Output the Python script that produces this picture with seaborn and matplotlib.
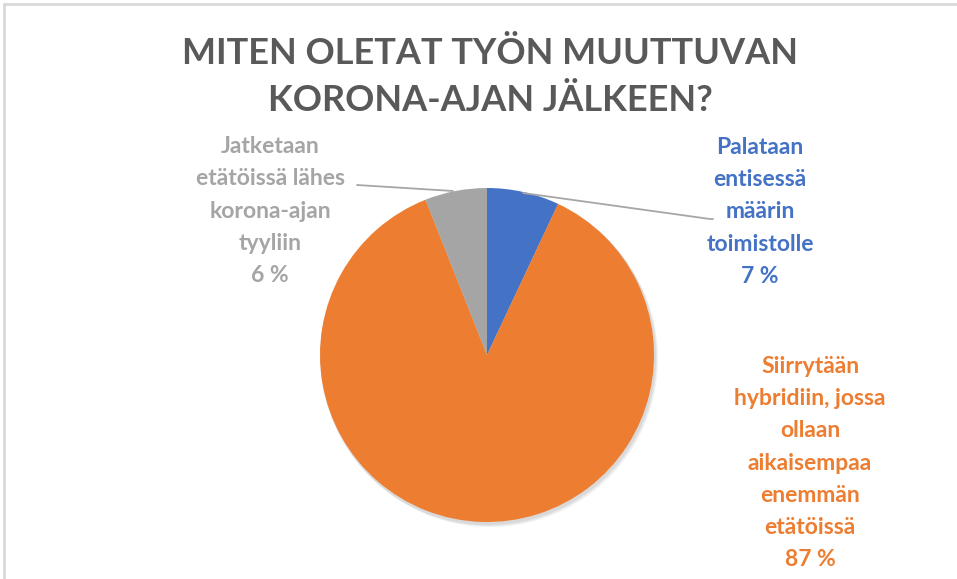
import matplotlib
matplotlib.use("Agg")
import matplotlib.pyplot as plt
import seaborn as sns

# chart data
labels = ["Palataan\nentisessä\nmäärin\ntoimistolle",
          "Siirrytään\nhybridiin, jossa\nollaan\naikaisempaa\nenemmän\netätöissä",
          "Jatketaan\netätöissä lähes\nkorona-ajan\ntyyliin"]
shares = [7, 87, 6]
colors = ["#4472C4", "#ED7D31", "#A5A5A5"]
title = "MITEN OLETAT TYÖN MUUTTUVAN\nKORONA-AJAN JÄLKEEN?"

W, H = 957, 579

sns.set_theme(style="white")
plt.rcParams['font.family'] = ['Lato', 'DejaVu Sans']


def py(y):
    # pixel row (from top) -> axis y
    return H - y


fig = plt.figure(figsize=(W / 100, H / 100), dpi=100)
ax = fig.add_axes([0, 0, 1, 1])

# frame (top / left edges)
ax.plot([3, W], [py(4), py(4)], color="#d9d9d9", lw=2, solid_capstyle="butt")
ax.plot([4, 4], [py(4), 0], color="#d9d9d9", lw=2)

# soft shadow behind the pie
for i in range(3):
    sh = plt.Circle((488 + i, py(357 + i)), 168, color="black", alpha=0.05, lw=0)
    ax.add_patch(sh)

ax.pie(shares, colors=colors, startangle=90, counterclock=False,
       center=(487, py(355)), radius=167, frame=True,
       wedgeprops=dict(linewidth=0))
ax.set_xlim(0, W)
ax.set_ylim(0, H)
ax.set_aspect("equal")
ax.axis("off")

ax.text(W / 2 + 12, py(77), title, ha="center", va="center", fontsize=26,
        fontweight="bold", color="#595959", linespacing=1.55)

label_pos = [(760, 212), (810, 463), (270, 211)]
for lab, v, c, (x, y) in zip(labels, shares, colors, label_pos):
    ax.text(x, py(y), f"{lab}\n{v} %", ha="center", va="center", fontsize=16.5,
            fontweight="bold", color=c, linespacing=1.66)

# leader lines
ax.plot([357, 453], [py(185), py(191)], color="#a6a6a6", lw=1.3)
ax.plot([523, 710, 713], [py(193), py(219), py(219)], color="#a6a6a6", lw=1.3)

fig.savefig("out.png", dpi=100, facecolor="white")
